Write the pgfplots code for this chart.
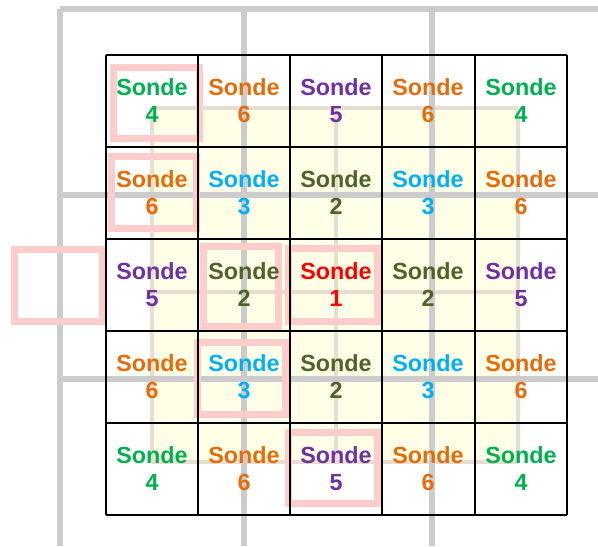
\documentclass[border=0pt]{standalone}
\usepackage{pgfplots}
\pgfplotsset{compat=1.18}
\usepackage{fontspec}
\setmainfont{Liberation Sans}
\definecolor{cgreen}{HTML}{00B050}
\definecolor{corange}{HTML}{E46C0A}
\definecolor{cpurple}{HTML}{7030A0}
\definecolor{ccyan}{HTML}{00B0F0}
\definecolor{colive}{HTML}{4F6228}
\definecolor{cred}{HTML}{FF0000}
\definecolor{cgray}{HTML}{CCCCCC}
\definecolor{cyellow}{HTML}{FFFFE8}
\definecolor{cbeige}{HTML}{E6DED0}
\definecolor{cpink}{HTML}{FFCCCC}
\newcommand\rect[5]{\addplot[#1] coordinates {(#2,#3) (#4,#3) (#4,#5) (#2,#5)} -- cycle;}
\pgfplotsset{
  lbl/.style={only marks, mark=none, point meta=explicit symbolic,
    nodes near coords={\begin{tabular}{@{}c@{}}Sonde\\\pgfplotspointmeta\end{tabular}},
    every node near coord/.style={anchor=center, inner sep=0pt, yshift=-2pt, text=#1,
      font=\bfseries\fontsize{17.5}{20.5}\selectfont}},
}
\begin{document}
\begin{tikzpicture}
\begin{axis}[
  name=ax,
  scale only axis, width=448.5pt, height=409.5pt,
  xmin=0, xmax=598, ymin=0, ymax=546, y dir=reverse,
  axis lines=none, clip=true,
  unbounded coords=jump,
]
% yellow area
\rect{fill=cyellow, draw=none}{152}{108}{518}{462}
% beige inner grid
\addplot[cbeige, line width=3pt] coordinates {
 (152,108) (518,108) (nan,nan)
 (152,292) (518,292) (nan,nan)
 (152,462) (518,462) (nan,nan)
 (152,108) (152,462) (nan,nan)
 (336,108) (336,462) (nan,nan)
 (518,108) (518,462)
};
% gray grid
\addplot[cgray, line width=4pt] coordinates {
 (60,9) (598,9) (nan,nan)
 (60,195) (598,195) (nan,nan)
 (60,379) (598,379) (nan,nan)
 (60,9) (60,546) (nan,nan)
 (244,9) (244,546) (nan,nan)
 (432,9) (432,546)
};
% pink squares
\rect{draw=cpink, line width=5.25pt}{113}{67.5}{199}{138.5}
\rect{draw=cpink, line width=5.25pt}{111}{156}{196}{228}
\rect{draw=cpink, line width=5.25pt}{14}{249}{102}{321}
\rect{draw=cpink, line width=5.25pt}{203}{246}{278}{326}
\rect{draw=cpink, line width=5.25pt}{288}{248}{377}{321}
\rect{draw=cpink, line width=5.25pt}{197}{342}{285}{414}
\rect{draw=cpink, line width=5.25pt}{288}{432}{377}{503}
% black grid
\addplot[black, line width=1.5pt] coordinates {
 (106,55) (567,55) (nan,nan)
 (106,147) (567,147) (nan,nan)
 (106,239) (567,239) (nan,nan)
 (106,331) (567,331) (nan,nan)
 (106,423) (567,423) (nan,nan)
 (106,515) (567,515) (nan,nan)
 (106,55) (106,515) (nan,nan)
 (198,55) (198,515) (nan,nan)
 (290,55) (290,515) (nan,nan)
 (382,55) (382,515) (nan,nan)
 (475,55) (475,515) (nan,nan)
 (567,55) (567,515)
};
% labels
\addplot[lbl=cred] coordinates {(336,285) [1]};
\addplot[lbl=colive] coordinates {(336,193) [2] (244,285) [2] (428,285) [2] (336,377) [2]};
\addplot[lbl=ccyan] coordinates {(244,193) [3] (428,193) [3] (244,377) [3] (428,377) [3]};
\addplot[lbl=cgreen] coordinates {(152,101) [4] (521,101) [4] (152,469) [4] (521,469) [4]};
\addplot[lbl=cpurple] coordinates {(336,101) [5] (152,285) [5] (521,285) [5] (336,469) [5]};
\addplot[lbl=corange] coordinates {(244,101) [6] (428,101) [6] (152,193) [6] (521,193) [6] (152,377) [6] (521,377) [6] (244,469) [6] (428,469) [6]};
\end{axis}
\pgfresetboundingbox
\path[use as bounding box] (ax.south west) rectangle (ax.north east);
\end{tikzpicture}
\end{document}
